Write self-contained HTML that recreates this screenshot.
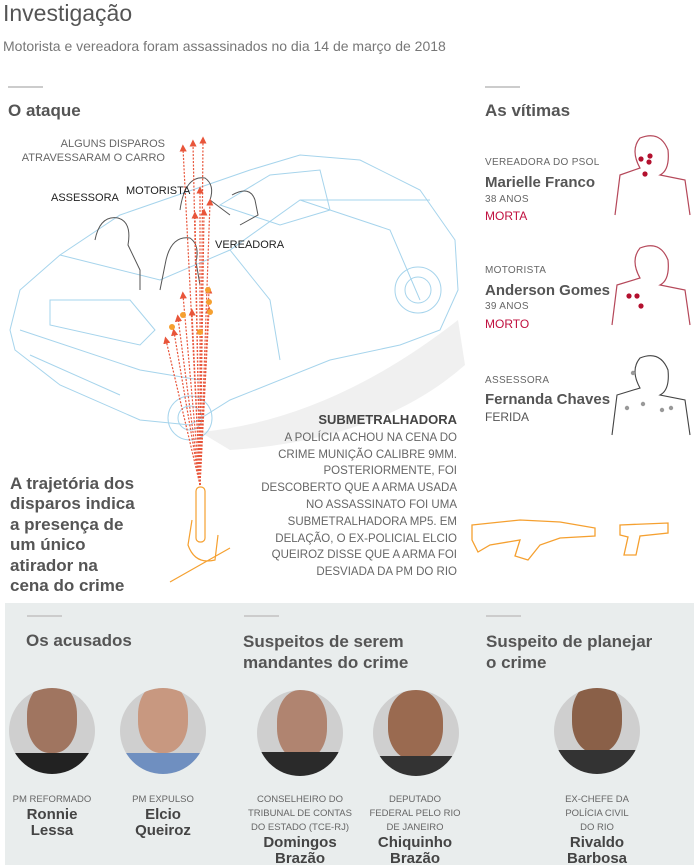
<!DOCTYPE html>
<html><head><meta charset="utf-8"><style>
body{margin:0;width:694px;height:865px;background:#fff;position:relative;overflow:hidden;font-family:"Liberation Sans Narrow","Liberation Sans",sans-serif;color:#555}
.a{position:absolute;white-space:nowrap}
.h{font-weight:bold;font-size:17px;color:#555}
.rule{position:absolute;height:2px;width:35px;background:#ccc}
.sm{font-size:10px;color:#666;letter-spacing:.3px}
.nm{font-weight:bold;font-size:15px;color:#555}
.red{color:#c0103f;font-size:12px}
.lbl{font-size:11px;color:#222}
.c{text-align:center;position:absolute}
.cap{font-size:9.5px;color:#666;line-height:14px}
.pn{font-weight:bold;font-size:15px;color:#444;line-height:16px}
.ph{position:absolute;width:86px;height:86px;border-radius:50%;background:#cfcfcf;overflow:hidden}
</style></head><body>
<div class="a" style="left:3px;top:0;font-size:23px;color:#555">Investigação</div>
<div class="a" style="left:3px;top:38px;font-size:14px;color:#777">Motorista e vereadora foram assassinados no dia 14 de março de 2018</div>
<div class="rule" style="left:8px;top:86px"></div>
<div class="rule" style="left:485px;top:86px"></div>
<div class="a h" style="left:8px;top:101px">O ataque</div>
<div class="a h" style="left:485px;top:101px">As vítimas</div>

<svg class="a" style="left:0;top:0" width="694" height="600">
<defs><marker id="ar" markerWidth="6" markerHeight="6" refX="3" refY="3" orient="auto"><path d="M0 0 L6 3 L0 6 Z" fill="#e8553a"/></marker></defs>
<path d="M200 432 Q330 420 458 320 L465 365 Q380 440 230 450 Z" fill="#f0f0f0"/>
<g fill="none" stroke="#a6d4ec" stroke-width="1">
<path d="M60 255 L120 215 L250 170 L300 155 L360 160 L420 190 L455 240 L458 290 L440 330 L400 345 L330 360 L230 400 L190 425 L140 420 L60 385 L15 350 L10 330 L20 290 Z" fill="#fff"/>
<path d="M60 255 L160 280 L230 250 L300 200 L430 200"/>
<path d="M50 300 L130 300 L155 330 L140 345 L50 325 Z"/>
<path d="M230 250 L270 300 L280 360 M300 200 L390 230 L420 300"/>
<path d="M20 330 L140 370 L200 380 M30 355 L120 395"/>
<circle cx="418" cy="290" r="23"/><circle cx="418" cy="290" r="13"/>
<circle cx="190" cy="418" r="22"/><circle cx="190" cy="418" r="12"/>
<path d="M220 205 L270 175 L320 170 L330 210 L280 225 Z"/>
</g>
<g fill="none" stroke="#555" stroke-width="1">
<path d="M95 240 Q100 215 118 218 Q132 222 128 245 L140 270 L140 290"/>
<path d="M160 290 L165 265 Q170 235 190 238 Q200 245 196 262 L200 285"/>
<path d="M180 210 Q185 175 205 178 Q215 185 210 200 L230 215"/>
<path d="M232 195 Q250 185 255 200 L258 215 L240 225"/>
</g>
<g stroke="#e8553a" stroke-width="1.2" stroke-dasharray="2 1.5" fill="none" marker-end="url(#ar)">
<line x1="200" y1="485" x2="183" y2="148"/><line x1="200" y1="485" x2="193" y2="143"/><line x1="200" y1="485" x2="203" y2="140"/>
<line x1="200" y1="485" x2="200" y2="190"/><line x1="200" y1="485" x2="210" y2="202"/><line x1="200" y1="485" x2="195" y2="215"/><line x1="200" y1="485" x2="204" y2="212"/>
<line x1="200" y1="485" x2="183" y2="295"/><line x1="200" y1="485" x2="178" y2="318"/><line x1="200" y1="485" x2="192" y2="312"/><line x1="200" y1="485" x2="166" y2="340"/><line x1="200" y1="485" x2="174" y2="332"/><line x1="200" y1="485" x2="209" y2="290"/><line x1="200" y1="485" x2="209" y2="310"/>
</g>
<g fill="#f5a030"><circle cx="208" cy="290" r="3"/><circle cx="209" cy="302" r="3"/><circle cx="200" cy="332" r="3"/><circle cx="172" cy="327" r="3"/><circle cx="183" cy="315" r="3"/><circle cx="210" cy="312" r="3"/></g>
<g fill="none" stroke="#f5a030" stroke-width="1.2">
<rect x="196" y="487" width="9" height="55" rx="4"/>
<path d="M192 520 L188 545 Q195 565 215 560 L218 535 M170 582 L230 548"/>
</g>
<g fill="none" stroke="#f5a030" stroke-width="1.3">
<path d="M472 525 L520 520 L560 522 L595 528 L595 536 L560 538 L540 545 L528 560 L515 556 L520 540 L490 545 L478 552 L472 540 Z"/>
<path d="M620 525 L668 523 L668 533 L640 536 L636 555 L624 555 L628 537 L620 535 Z"/>
</g>
<g fill="none" stroke="#b5485a" stroke-width="1.2">
<path d="M615 215 L620 175 L640 168 Q630 150 640 138 Q660 130 668 150 Q670 170 660 175 L685 180 L690 215"/>
<path d="M612 325 L617 285 L640 278 Q630 260 640 248 Q660 240 668 260 Q670 280 660 285 L685 290 L690 325"/>
</g>
<g fill="none" stroke="#444" stroke-width="1.1"><path d="M612 435 L617 395 L640 388 Q630 370 640 358 Q660 350 668 370 Q670 390 660 395 L685 400 L690 435"/></g>
<g fill="#b3102e"><circle cx="650" cy="156" r="2.6"/><circle cx="641" cy="159" r="2.6"/><circle cx="649" cy="162" r="2.6"/><circle cx="645" cy="174" r="2.6"/><circle cx="629" cy="296" r="2.6"/><circle cx="637" cy="296" r="2.6"/><circle cx="641" cy="306" r="2.6"/></g>
<g fill="#999"><circle cx="633" cy="373" r="2.2"/><circle cx="627" cy="408" r="2.2"/><circle cx="643" cy="404" r="2.2"/><circle cx="662" cy="410" r="2.2"/><circle cx="671" cy="408" r="2.2"/></g>
</svg>

<div class="a" style="right:529px;top:137px;font-size:11px;color:#666;text-align:right;line-height:14px">ALGUNS DISPAROS<br>ATRAVESSARAM O CARRO</div>
<div class="a lbl" style="left:51px;top:192px">ASSESSORA</div>
<div class="a lbl" style="left:126px;top:185px">MOTORISTA</div>
<div class="a lbl" style="left:215px;top:239px">VEREADORA</div>
<div class="a" style="right:237px;top:412px;text-align:right;font-size:11.5px;color:#666;line-height:16.8px"><b style="color:#444;font-size:13px">SUBMETRALHADORA</b><br>A POLÍCIA ACHOU NA CENA DO<br>CRIME MUNIÇÃO CALIBRE 9MM.<br>POSTERIORMENTE, FOI<br>DESCOBERTO QUE A ARMA USADA<br>NO ASSASSINATO FOI UMA<br>SUBMETRALHADORA MP5. EM<br>DELAÇÃO, O EX-POLICIAL ELCIO<br>QUEIROZ DISSE QUE A ARMA FOI<br>DESVIADA DA PM DO RIO</div>
<div class="a" style="left:10px;top:474px;font-weight:bold;font-size:17px;line-height:20.4px;color:#555">A trajetória dos<br>disparos indica<br>a presença de<br>um único<br>atirador na<br>cena do crime</div>

<div class="a sm" style="left:485px;top:157px">VEREADORA DO PSOL</div>
<div class="a nm" style="left:485px;top:174px">Marielle Franco</div>
<div class="a sm" style="left:485px;top:194px">38 ANOS</div>
<div class="a red" style="left:485px;top:209px">MORTA</div>
<div class="a sm" style="left:485px;top:265px">MOTORISTA</div>
<div class="a nm" style="left:485px;top:282px">Anderson Gomes</div>
<div class="a sm" style="left:485px;top:301px">39 ANOS</div>
<div class="a red" style="left:485px;top:317px">MORTO</div>
<div class="a sm" style="left:485px;top:375px">ASSESSORA</div>
<div class="a nm" style="left:485px;top:391px">Fernanda Chaves</div>
<div class="a" style="left:485px;top:410px;font-size:12px;color:#555">FERIDA</div>

<div class="a" style="left:5px;top:603px;width:689px;height:262px;background:#e9eded"></div>
<div class="rule" style="left:27px;top:615px"></div>
<div class="rule" style="left:244px;top:615px"></div>
<div class="rule" style="left:486px;top:615px"></div>
<div class="a h" style="left:26px;top:631px">Os acusados</div>
<div class="a h" style="left:243px;top:631px;line-height:21px">Suspeitos de serem<br>mandantes do crime</div>
<div class="a h" style="left:486px;top:631px;line-height:21px">Suspeito de planejar<br>o crime</div>

<div class="ph" style="left:9px;top:688px"><div style="position:absolute;left:18px;top:-5px;width:50px;height:70px;border-radius:45%;background:#a07560"></div><div style="position:absolute;left:0;top:65px;width:86px;height:30px;background:#222"></div></div>
<div class="ph" style="left:120px;top:688px"><div style="position:absolute;left:18px;top:-5px;width:50px;height:70px;border-radius:45%;background:#c89880"></div><div style="position:absolute;left:0;top:65px;width:86px;height:30px;background:#6f8fc0"></div></div>
<div class="ph" style="left:257px;top:690px"><div style="position:absolute;left:20px;top:0;width:50px;height:70px;border-radius:45%;background:#b08470"></div><div style="position:absolute;left:0;top:62px;width:86px;height:30px;background:#2a2a2a"></div></div>
<div class="ph" style="left:373px;top:690px"><div style="position:absolute;left:15px;top:0;width:55px;height:70px;border-radius:45%;background:#9a6a50"></div><div style="position:absolute;left:0;top:66px;width:86px;height:30px;background:#333"></div></div>
<div class="ph" style="left:554px;top:688px"><div style="position:absolute;left:18px;top:-5px;width:50px;height:70px;border-radius:45%;background:#8a6048"></div><div style="position:absolute;left:0;top:62px;width:86px;height:30px;background:#333"></div></div>

<div class="c" style="left:2px;width:100px;top:793px"><div class="cap">PM REFORMADO</div><div class="pn">Ronnie<br>Lessa</div></div>
<div class="c" style="left:113px;width:100px;top:793px"><div class="cap">PM EXPULSO</div><div class="pn">Elcio<br>Queiroz</div></div>
<div class="c" style="left:235px;width:130px;top:793px"><div class="cap">CONSELHEIRO DO<br>TRIBUNAL DE CONTAS<br>DO ESTADO (TCE-RJ)</div><div class="pn">Domingos<br>Brazão</div></div>
<div class="c" style="left:355px;width:120px;top:793px"><div class="cap">DEPUTADO<br>FEDERAL PELO RIO<br>DE JANEIRO</div><div class="pn">Chiquinho<br>Brazão</div></div>
<div class="c" style="left:537px;width:120px;top:793px"><div class="cap">EX-CHEFE DA<br>POLÍCIA CIVIL<br>DO RIO</div><div class="pn">Rivaldo<br>Barbosa</div></div>
</body></html>
